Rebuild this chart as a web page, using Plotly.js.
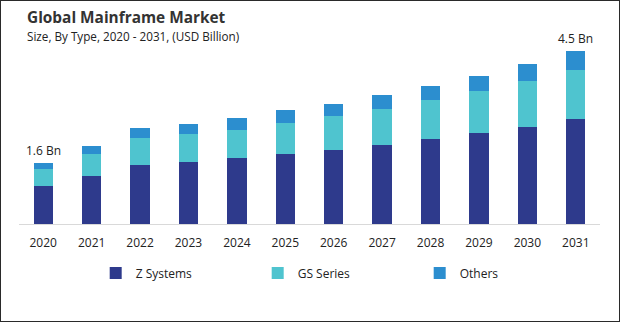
<!DOCTYPE html>
<html>
<head>
<meta charset="utf-8">
<script src="https://cdn.plot.ly/plotly-3.0.1.min.js"></script>
<style>
html,body{margin:0;padding:0;background:#fff;}
#wrap{position:relative;width:620px;height:322px;}
#chart{width:620px;height:322px;}
#frame{position:absolute;left:0;top:0;width:620px;height:322px;box-sizing:border-box;border:1px solid #2a2a2a;pointer-events:none;}
</style>
</head>
<body>
<div id="wrap"><div id="chart"></div><div id="frame"></div></div>
<script>
const years = ['2020','2021','2022','2023','2024','2025','2026','2027','2028','2029','2030','2031'];
const zSystems = [0.99, 1.25, 1.54, 1.61, 1.72, 1.82, 1.93, 2.06, 2.21, 2.37, 2.53, 2.73];
const gsSeries = [0.44, 0.57, 0.70, 0.73, 0.73, 0.81, 0.89, 0.94, 1.02, 1.09, 1.20, 1.28];
const others   = [0.17, 0.22, 0.26, 0.26, 0.31, 0.34, 0.31, 0.36, 0.36, 0.39, 0.44, 0.49];
const seriesNames = ['Z Systems', 'GS Series', 'Others'];
const labelYears = ['2020', '2031'];
const labelTexts = ['1.6 Bn', '4.5 Bn'];
const titleText = 'Global Mainframe Market';
const subtitleText = 'Size, By Type, 2020 - 2031, (USD Billion)';

const colors = ['#2E3A8C', '#4FC4CF', '#2C8ECF'];
const font = '"Open Sans", "Noto Sans", sans-serif';

const data = [zSystems, gsSeries, others].map((vals, i) => ({
  type: 'bar',
  name: seriesNames[i],
  x: years,
  y: vals,
  marker: {color: colors[i]},
  hoverinfo: 'none'
}));

const totals = years.map((_, i) => zSystems[i] + gsSeries[i] + others[i]);
const annotations = labelYears.map((yr, k) => {
  const idx = years.indexOf(yr);
  return {
    x: idx, y: totals[idx], xref: 'x', yref: 'y',
    text: labelTexts[k], showarrow: false,
    yanchor: 'bottom', yshift: 2,
    font: {family: font, size: 12, color: '#222'}
  };
});
annotations.push({
  xref: 'paper', yref: 'paper', x: 0.010, y: 1.078,
  xanchor: 'left', yanchor: 'middle', showarrow: false, align: 'left',
  text: '<b>' + titleText + '</b>',
  font: {family: font, size: 15.4, color: '#333'}
});
annotations.push({
  xref: 'paper', yref: 'paper', x: 0.010, y: 0.979,
  xanchor: 'left', yanchor: 'middle', showarrow: false, align: 'left',
  text: subtitleText,
  font: {family: font, size: 11.7, color: '#222'}
});

const layout = {
  width: 620, height: 322,
  margin: {l: 19, r: 20, t: 32, b: 98},
  barmode: 'stack',
  bargap: 0.6,
  paper_bgcolor: '#fff', plot_bgcolor: '#fff',
  showlegend: true,
  legend: {
    orientation: 'h', x: 0.132, xanchor: 'left', y: -0.18, yanchor: 'top',
    traceorder: 'normal',
    font: {family: font, size: 12, color: '#222'},
    itemwidth: 30, entrywidth: 117
  },
  xaxis: {
    type: 'category', range: [-0.5, 11.5],
    showline: true, linecolor: '#d9d9d9', linewidth: 1,
    ticks: '', tickfont: {family: font, size: 12, color: '#222'},
    showgrid: false, fixedrange: true, ticklabelstandoff: 8
  },
  yaxis: {
    range: [0, 5], visible: false, showgrid: false, zeroline: false, fixedrange: true
  },
  annotations: annotations
};

Plotly.newPlot('chart', data, layout, {displayModeBar: false, staticPlot: true});
</script>
</body>
</html>
